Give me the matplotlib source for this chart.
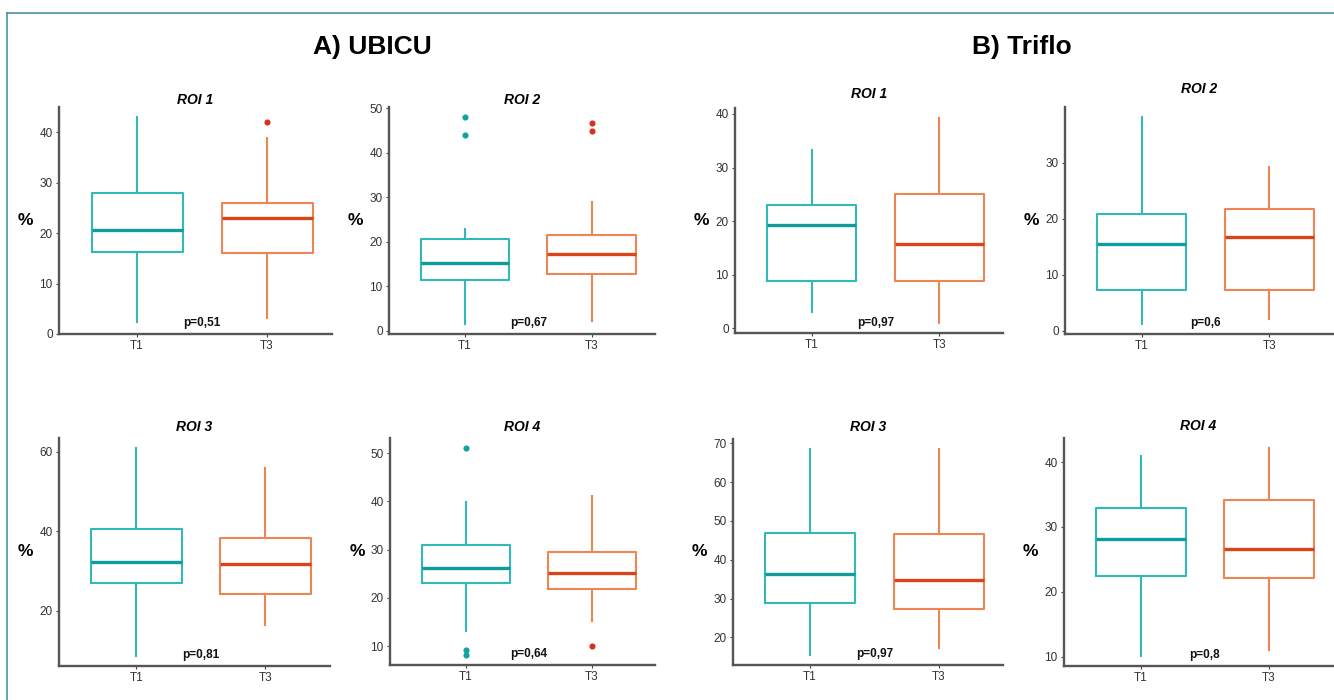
import matplotlib
matplotlib.use("Agg")
import matplotlib.pyplot as plt
from matplotlib.lines import Line2D

plt.rcParams['font.family'] = ['Liberation Sans', 'DejaVu Sans']

# ---------------- data ----------------
groups = ["T1", "T3"]
panel_titles = ["ROI 1", "ROI 2", "ROI 3", "ROI 4"]
section_titles = ["A) UBICU", "B) Triflo"]

# five-number summaries: [whisker low, Q1, median, Q3, whisker high]
ubicu_t1 = [[2.4, 16.3, 20.6, 27.9, 43.0],
            [1.6, 11.5, 15.3, 20.7, 23.0],
            [8.7, 26.9, 32.4, 40.6, 60.9],
            [13.1, 23.1, 26.2, 30.9, 39.9]]
ubicu_t3 = [[3.2, 16.1, 23.1, 26.0, 38.9],
            [2.3, 12.7, 17.3, 21.5, 28.9],
            [16.3, 24.3, 31.7, 38.3, 56.0],
            [15.1, 21.8, 25.1, 29.6, 41.1]]
ubicu_t1_out = [[], [44.0, 48.0], [], [51.0, 9.2, 8.2]]
ubicu_t3_out = [[42.0], [45.0, 46.8], [], [10.0]]
ubicu_p = ["p=0,51", "p=0,67", "p=0,81", "p=0,64"]

triflo_t1 = [[3.1, 8.9, 19.2, 23.0, 33.2],
             [1.3, 7.3, 15.5, 20.8, 38.1],
             [15.5, 28.9, 36.2, 46.9, 68.5],
             [10.2, 22.4, 28.2, 32.9, 41.0]]
triflo_t3 = [[1.05, 8.9, 15.7, 25.1, 39.2],
             [2.1, 7.3, 16.7, 21.8, 29.2],
             [17.2, 27.2, 34.7, 46.7, 68.5],
             [11.1, 22.2, 26.6, 34.2, 42.1]]
triflo_t1_out = [[], [], [], []]
triflo_t3_out = [[], [], [], []]
triflo_p = ["p=0,97", "p=0,6", "p=0,97", "p=0,8"]

ubicu_yticks = [[0, 10, 20, 30, 40], [0, 10, 20, 30, 40, 50],
                [20, 40, 60], [10, 20, 30, 40, 50]]
triflo_yticks = [[0, 10, 20, 30, 40], [0, 10, 20, 30],
                 [20, 30, 40, 50, 60, 70], [10, 20, 30, 40]]

# ---------------- style ----------------
W, H = 1334, 700
box_col = {"T1": "#33B8B8", "T3": "#EC8655"}
med_col = {"T1": "#109C9C", "T3": "#D8451A"}
out_col = {"T1": "#12A0A0", "T3": "#D8301C"}
axis_col = "#555555"

fig = plt.figure(figsize=(W / 100, H / 100), dpi=100)
fig.patch.set_facecolor("white")

def px_axes(left, right, top, bottom):
    return fig.add_axes([left / W, 1 - bottom / H, (right - left) / W, (bottom - top) / H])

# axes pixel boxes: (left, right, top, bottom)
boxes_px = {
    ("A", 0): (59, 332, 107, 334), ("A", 1): (389, 655, 107, 334),
    ("A", 2): (59, 330, 438, 666), ("A", 3): (390, 655, 438, 665),
    ("B", 0): (735, 1003, 108, 333), ("B", 1): (1065, 1333, 107, 334),
    ("B", 2): (733, 1003, 439, 665), ("B", 3): (1064, 1333, 438, 666),
}
title_pad = {"A": [2, 2, 5, 5], "B": [7, 10, 6, 6]}

def draw_panel(ax, s1, s3, o1, o3, ptxt, ticks, title, pad):
    stats = []
    for g, s, o in (("T1", s1, o1), ("T3", s3, o3)):
        stats.append(dict(whislo=s[0], q1=s[1], med=s[2], q3=s[3], whishi=s[4],
                          fliers=o, label=g))
    for i, (g, st) in enumerate(zip(groups, stats)):
        ax.bxp([st], positions=[i + 1], widths=0.7, showcaps=False,
               boxprops=dict(color=box_col[g], linewidth=1.5),
               whiskerprops=dict(color=box_col[g], linewidth=1.5),
               medianprops=dict(color=med_col[g], linewidth=2.4),
               flierprops=dict(marker="o", markersize=3.4, markerfacecolor=out_col[g],
                               markeredgecolor=out_col[g], linestyle="none"))
    allv = s1 + s3 + o1 + o3
    lo, hi = min(allv), max(allv)
    padv = 0.05 * (hi - lo)
    ax.set_ylim(lo - padv, hi + padv)
    ax.set_xlim(0.4, 2.5)
    ax.set_xticks([1, 2])
    ax.set_xticklabels(groups)
    ax.set_yticks(ticks)
    for sp in ("top", "right"):
        ax.spines[sp].set_visible(False)
    for sp in ("left", "bottom"):
        ax.spines[sp].set_color(axis_col)
        ax.spines[sp].set_linewidth(1.7)
    ax.tick_params(axis="both", colors="#444444", labelsize=8.5, length=2.5, width=0.8, pad=2)
    ax.tick_params(axis="both", labelcolor="#333333")
    ax.set_title(title, fontsize=10, fontweight="bold", fontstyle="italic", pad=pad)
    ax.set_ylabel("%", rotation=0, fontsize=12.5, fontweight="bold", va="center", ha="center")
    ax.yaxis.set_label_coords(-0.125, 0.5)
    ax.text(1.5, 0.02, ptxt, transform=ax.get_xaxis_transform(), ha="center", va="bottom",
            fontsize=8.5, fontweight="bold", color="#111111")

for k in range(4):
    ax = px_axes(*boxes_px[("A", k)])
    draw_panel(ax, ubicu_t1[k], ubicu_t3[k], ubicu_t1_out[k], ubicu_t3_out[k],
               ubicu_p[k], ubicu_yticks[k], panel_titles[k], title_pad["A"][k])
    ax = px_axes(*boxes_px[("B", k)])
    draw_panel(ax, triflo_t1[k], triflo_t3[k], triflo_t1_out[k], triflo_t3_out[k],
               triflo_p[k], triflo_yticks[k], panel_titles[k], title_pad["B"][k])

fig.text(372 / W, 1 - 47 / H, section_titles[0], ha="center", va="center",
         fontsize=19, fontweight="bold")
fig.text(1022 / W, 1 - 47 / H, section_titles[1], ha="center", va="center",
         fontsize=19, fontweight="bold")

# frame
frame_col = "#4B93A8"
fig.add_artist(Line2D([7 / W, 1.0], [1 - 13 / H, 1 - 13 / H], color=frame_col, linewidth=1.2))
fig.add_artist(Line2D([7 / W, 7 / W], [0, 1 - 13 / H], color=frame_col, linewidth=1.2))

fig.savefig("out.png", dpi=100, facecolor="white")
